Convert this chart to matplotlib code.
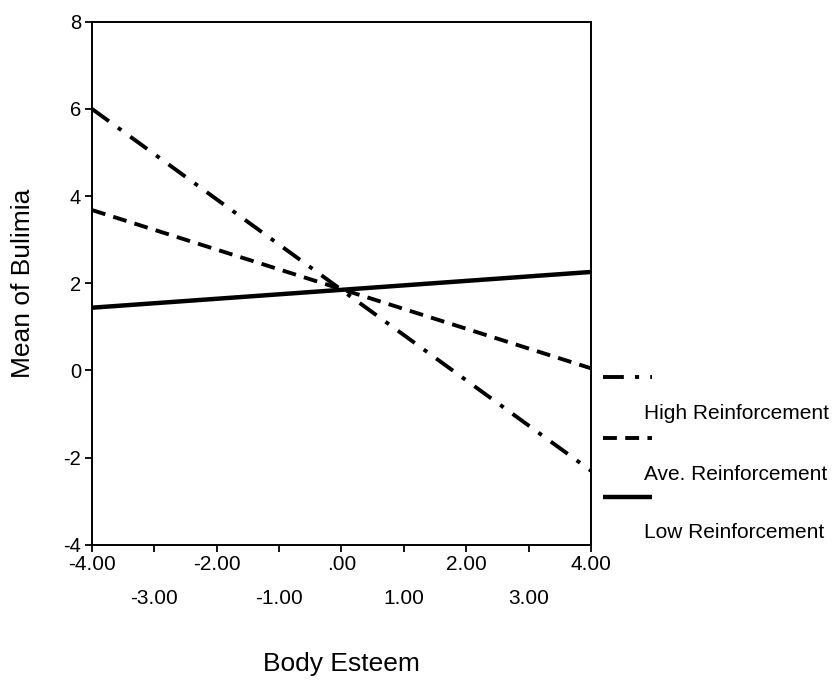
import matplotlib
matplotlib.use("Agg")
import matplotlib.pyplot as plt
from matplotlib.lines import Line2D

plt.rcParams['font.family'] = ['Liberation Sans', 'DejaVu Sans']
plt.rcParams['lines.scale_dashes'] = False

# Data
body_esteem = [-4.0, 4.0]
series_names = ["High Reinforcement", "Ave. Reinforcement", "Low Reinforcement"]
high_vals = [6.0, -2.3]
ave_vals = [3.68, 0.05]
low_vals = [1.44, 2.26]
major_ticks = [-4, -2, 0, 2, 4]
major_labels = ["-4.00", "-2.00", ".00", "2.00", "4.00"]
minor_ticks = [-3, -1, 1, 3]
minor_labels = ["-3.00", "-1.00", "1.00", "3.00"]
y_ticks = [-4, -2, 0, 2, 4, 6, 8]
y_labels = ["-4", "-2", "0", "2", "4", "6", "8"]

styles = [
    dict(linestyle=(0, (15, 8, 3, 8)), linewidth=2.8),
    dict(linestyle=(0, (10, 6)), linewidth=2.8),
    dict(linestyle='-', linewidth=3.2),
]

fig = plt.figure(figsize=(8.37, 6.81), dpi=100)
ax = fig.add_axes([0.110, 0.200, 0.596, 0.768])

for vals, st in zip([high_vals, ave_vals, low_vals], styles):
    ax.plot(body_esteem, vals, color='black', solid_capstyle='butt',
            dash_capstyle='butt', **st)

ax.set_xlim(-4, 4)
ax.set_ylim(-4, 8)
ax.set_xticks(major_ticks)
ax.set_xticklabels(major_labels)
ax.set_xticks(minor_ticks, minor=True)
ax.set_xticklabels(minor_labels, minor=True)
ax.set_yticks(y_ticks)
ax.set_yticklabels(y_labels)
ax.tick_params(axis='x', which='major', length=5, width=1.3, pad=2, labelsize=15)
ax.tick_params(axis='x', which='minor', length=5, width=1.3, pad=27, labelsize=15)
ax.tick_params(axis='y', length=5, width=1.3, pad=3, labelsize=14.5)
for s in ax.spines.values():
    s.set_linewidth(1.4)

ax.set_xlabel("Body Esteem", fontsize=19)
ax.set_ylabel("Mean of Bulimia", fontsize=19)
ax.xaxis.set_label_coords(0.5, -0.205)
ax.yaxis.set_label_coords(-0.115, 0.5)

# Legend drawn beside the axes: line sample above each label
sample_y = [377, 438, 497]
label_y = [413, 474, 532]
W, H = 837, 681
for name, st, sy, ly in zip(series_names, styles, sample_y, label_y):
    fig.add_artist(Line2D([603 / W, 652 / W], [1 - sy / H, 1 - sy / H],
                          color='black', transform=fig.transFigure,
                          solid_capstyle='butt', dash_capstyle='butt', **st))
    fig.text(644 / W, 1 - ly / H, name, fontsize=15, va='center', ha='left')

fig.savefig("out.png", dpi=100)
